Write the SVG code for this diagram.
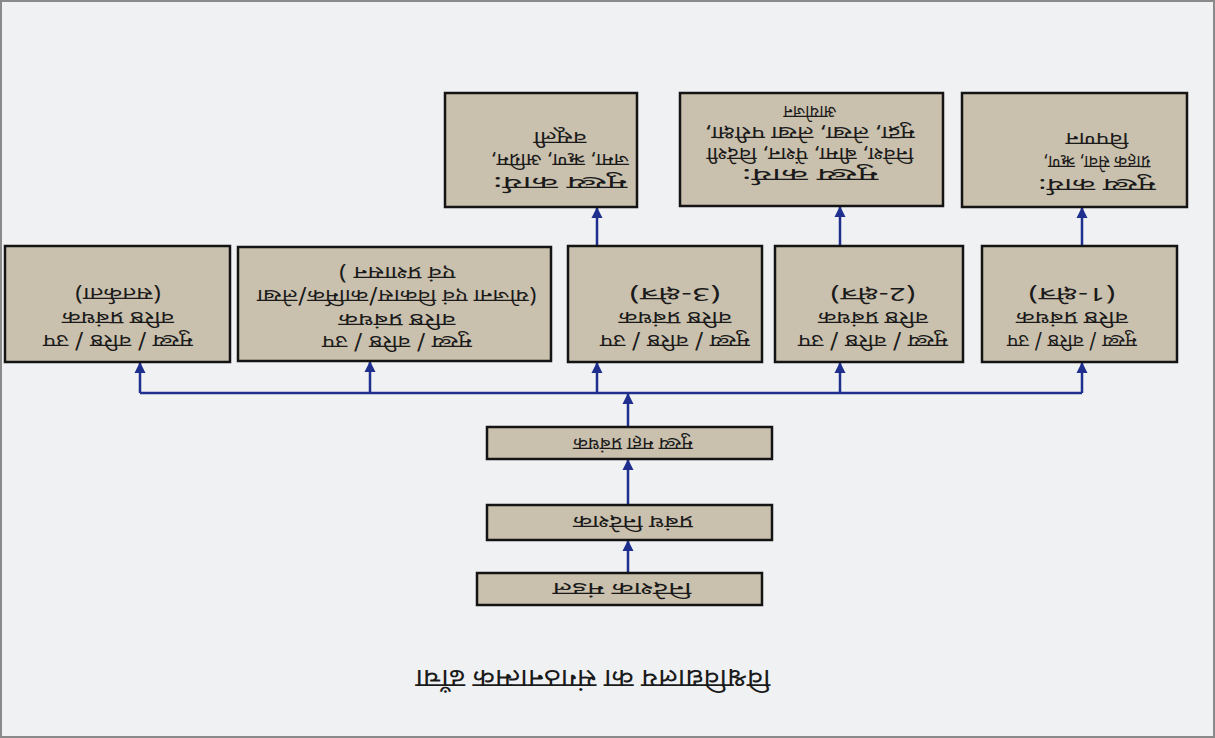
<svg xmlns="http://www.w3.org/2000/svg" width="1215" height="738" viewBox="0 0 1215 738">
<style>
.box{fill:#c9c0ad;stroke:#141414;stroke-width:2.5}
.t{font-family:"Noto Sans Devanagari","Lohit Devanagari","Noto Sans","DejaVu Sans",sans-serif;font-size:18px;fill:#1a1a1a;text-anchor:middle}
.title{font-size:26px}
.c{stroke:#1f2f8e;stroke-width:2.5;fill:none}
.a{marker-end:url(#ah)}
</style>
<defs>
<marker id="ah" markerWidth="12" markerHeight="12" refX="11" refY="6" orient="auto" markerUnits="userSpaceOnUse"><path d="M0,0.5 L11,6 L0,11.5 z" fill="#1f2f8e"/></marker>
</defs>
<rect width="1215" height="738" fill="#f0f1f3"/>
<rect x="1" y="1" width="1213" height="736" fill="none" stroke="#8a8a8a" stroke-width="2"/>
<g transform="rotate(180 607.5 369)">
<g id="title"><text class="t title" x="622" y="68" textLength="355" lengthAdjust="spacingAndGlyphs">विश्वविद्यालय का संगठनात्मक ढाँचा</text></g>
<g id="connectors">
<path class="c a" d="M587,165 L587,198"/>
<path class="c a" d="M587,233 L587,279"/>
<path class="c a" d="M587,311 L587,345"/>
<path class="c" d="M133,345 L1075,345"/>
<path class="c a" d="M1075,345 L1075,376"/>
<path class="c a" d="M845,345 L845,377"/>
<path class="c a" d="M618,345 L618,376"/>
<path class="c a" d="M375,345 L375,376"/>
<path class="c a" d="M133,345 L133,376"/>
<path class="c a" d="M618,492 L618,531"/>
<path class="c a" d="M375,492 L375,532"/>
<path class="c a" d="M133,492 L133,531"/>
</g>
<g id="c1"><rect class="box" x="453" y="133" width="285" height="32"/><text class="t" x="593" y="155" textLength="139" lengthAdjust="spacingAndGlyphs">निदेशक मंडल</text></g>
<g id="c2"><rect class="box" x="443" y="198" width="285" height="35"/><text class="t" x="582" y="222" textLength="120" lengthAdjust="spacingAndGlyphs">प्रबंध निदेशक</text></g>
<g id="c3"><rect class="box" x="443" y="279" width="285" height="32"/><text class="t" x="582" y="300" textLength="120" lengthAdjust="spacingAndGlyphs">मुख्य महा प्रबंधक</text></g>
<g id="b1"><rect class="box" x="38" y="376" width="195" height="116"/>
<text class="t" x="143" y="403" textLength="130" lengthAdjust="spacingAndGlyphs">मुख्य / वरिष्ठ / उप</text>
<text class="t" x="143" y="426" textLength="112" lengthAdjust="spacingAndGlyphs">वरिष्ठ प्रबंधक</text>
<text class="t" x="143" y="450" textLength="88" lengthAdjust="spacingAndGlyphs">(1-क्षेत्र)</text></g>
<g id="b2"><rect class="box" x="252" y="376" width="188" height="116"/>
<text class="t" x="342" y="403" textLength="150" lengthAdjust="spacingAndGlyphs">मुख्य / वरिष्ठ / उप</text>
<text class="t" x="342" y="426" textLength="110" lengthAdjust="spacingAndGlyphs">वरिष्ठ प्रबंधक</text>
<text class="t" x="342" y="450" textLength="86" lengthAdjust="spacingAndGlyphs">(2-क्षेत्र)</text></g>
<g id="b3"><rect class="box" x="453" y="376" width="194" height="116"/>
<text class="t" x="540" y="403" textLength="150" lengthAdjust="spacingAndGlyphs">मुख्य / वरिष्ठ / उप</text>
<text class="t" x="540" y="426" textLength="113" lengthAdjust="spacingAndGlyphs">वरिष्ठ प्रबंधक</text>
<text class="t" x="540" y="450" textLength="92" lengthAdjust="spacingAndGlyphs">(3-क्षेत्र)</text></g>
<g id="b4"><rect class="box" x="664" y="377" width="313" height="114"/>
<text class="t" x="818" y="402" textLength="150" lengthAdjust="spacingAndGlyphs">मुख्य / वरिष्ठ / उप</text>
<text class="t" x="818" y="424" textLength="117" lengthAdjust="spacingAndGlyphs">वरिष्ठ प्रबंधक</text>
<text class="t" x="818" y="448" textLength="280" lengthAdjust="spacingAndGlyphs">(योजना एवं विकास/कार्मिक/लेखा</text>
<text class="t" x="818" y="471" textLength="117" lengthAdjust="spacingAndGlyphs">एवं प्रशासन )</text></g>
<g id="b5"><rect class="box" x="985" y="376" width="225" height="116"/>
<text class="t" x="1097" y="403" textLength="150" lengthAdjust="spacingAndGlyphs">मुख्य / वरिष्ठ / उप</text>
<text class="t" x="1097" y="426" textLength="112" lengthAdjust="spacingAndGlyphs">वरिष्ठ प्रबंधक</text>
<text class="t" x="1097" y="450" textLength="87" lengthAdjust="spacingAndGlyphs">(सतर्कता)</text></g>
<g id="t1"><rect class="box" x="578" y="531" width="192" height="114"/>
<text class="t" x="655" y="561" textLength="135" lengthAdjust="spacingAndGlyphs">मुख्य कार्य:</text>
<text class="t" x="655" y="584" textLength="138" lengthAdjust="spacingAndGlyphs">जमा, ऋण, अग्रिम,</text>
<text class="t" x="655" y="606" textLength="53" lengthAdjust="spacingAndGlyphs">वसूली</text></g>
<g id="t2"><rect class="box" x="272" y="532" width="263" height="113"/>
<text class="t" x="405" y="569" textLength="137" lengthAdjust="spacingAndGlyphs">मुख्य कार्य:</text>
<text class="t" x="405" y="590" textLength="207" lengthAdjust="spacingAndGlyphs">निवेश, बीमा, पेंशन, विदेशी</text>
<text class="t" x="405" y="611" textLength="210" lengthAdjust="spacingAndGlyphs">मुद्रा, लेखा, लेखा परीक्षा,</text>
<text class="t" x="405" y="632" textLength="53" lengthAdjust="spacingAndGlyphs">आयोजन</text></g>
<g id="t3"><rect class="box" x="28" y="531" width="225" height="114"/>
<text class="t" x="118" y="559" textLength="118" lengthAdjust="spacingAndGlyphs">मुख्य कार्य:</text>
<text class="t" x="118" y="582" textLength="107" lengthAdjust="spacingAndGlyphs">ग्राहक सेवा, ऋण,</text>
<text class="t" x="118" y="605" textLength="63" lengthAdjust="spacingAndGlyphs">विपणन</text></g>
</g>
</svg>
